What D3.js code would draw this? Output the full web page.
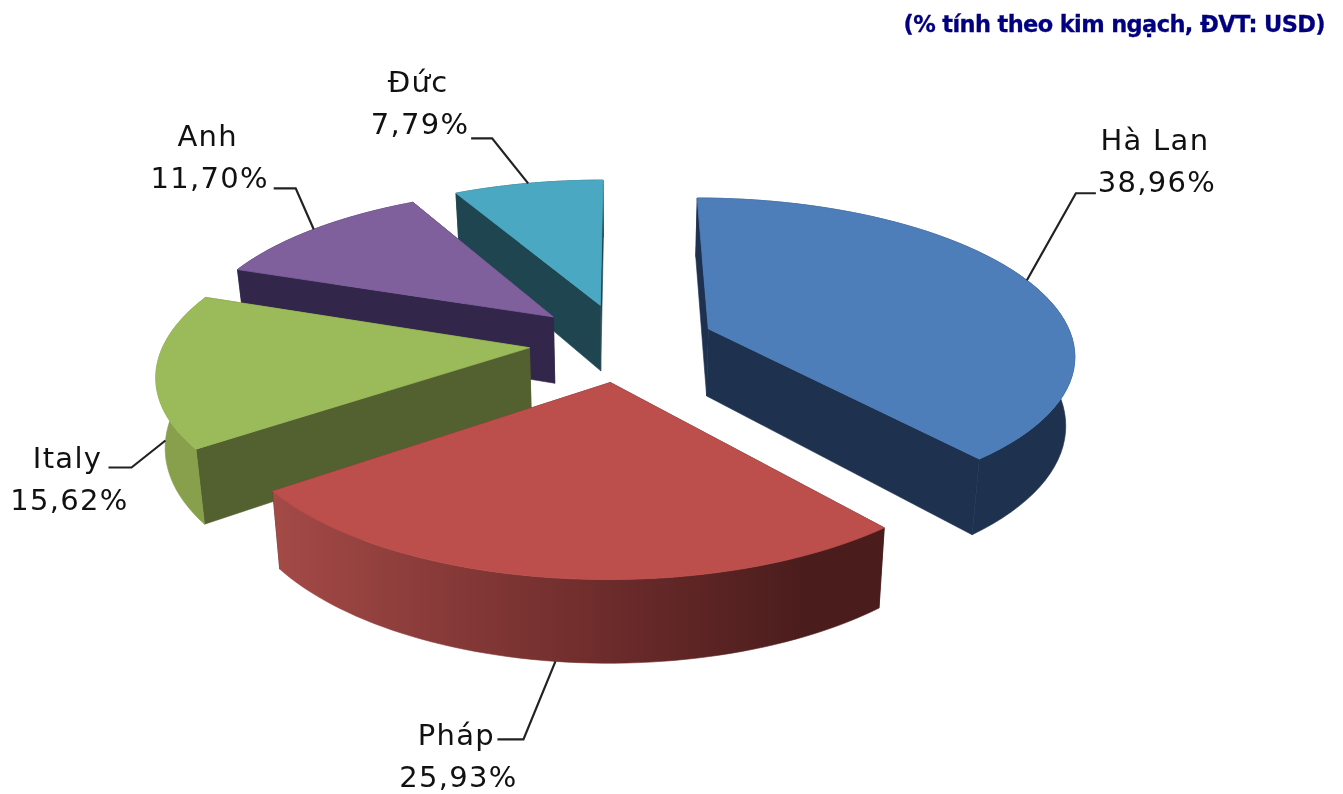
<!DOCTYPE html>
<html>
    <head>
        <title>Pie 3D</title>
        <script src="https://d3js.org/d3.v7.min.js"></script>
        <style>
            body { margin: 0; background: white; }
            svg { display: block; filter: blur(0.4px); }
            .label { font-family: "DejaVu Sans", sans-serif; font-size: 29px; letter-spacing: 1.3px; fill: #111; text-anchor: middle; }
            .note { font-family: "DejaVu Sans", sans-serif; font-weight: bold; font-size: 22.5px; letter-spacing: -0.62px; fill: #000080; stroke: #000080; stroke-width: 0.3; text-anchor: end; }
            .leader { fill: none; stroke: #222; stroke-width: 2.2; }
        </style>
    </head>
    <body>
        <svg id="chart" width="1343" height="794"></svg>
        <script>
            const note = "(% tính theo kim ngạch, ĐVT: USD)";
            const categories = ["Hà Lan", "Pháp", "Italy", "Anh", "Đức"];
            const shares = [38.96, 25.93, 15.62, 11.70, 7.79];
            const shareLabels = ["38,96%", "25,93%", "15,62%", "11,70%", "7,79%"];
            const topColors = ["#4d7eba", "#bc4f4c", "#9bba59", "#7f609d", "#4ba8c3"];
            const wallColors = ["#1e3250", "#4a1c1c", "#536030", "#32264a", "#1e4550"];
            const rimColors = ["#1e3250", "url(#rimRed)", "#88a04c", "#32264a", "#1e4550"];

            // Layout of the leaders and labels, relative to the point on the rim
            const leaderOnBase = [false, true, true, false, false];
            const kneeOffset = [[49, -87], [-32, 78], [-34, 27], [-18, -41], [-36, -45]];
            const tail = [20, -26, -23, -22, -21];
            const textOffset = [[79, -43], [-67, 6], [-64, 1], [-88, -42], [-74, -46]];

            const svg = d3.select("#chart");
            const cx = 622, cy = 342;      // pie centre on the screen
            const radius = 365;
            const tilt = 0.422;            // flattening of the disc
            const persp = 0.00041;         // how fast things shrink going backwards
            const thickness = 68;
            const explode = 93;
            const baseShrink = 0.98;       // vertical edges lean in a bit towards the bottom

            const pie = d3.pie().sort(null)
                          .startAngle(0).endAngle(2 * Math.PI);
            const slices = pie(shares);

            // world position (X right, Y back, on the disc) to screen
            const project = function(X, Y, base) {
                const s = 1 / (1 + persp * Y);
                const b = base ? baseShrink : 1;
                return [cx + X * s * b, cy + (-tilt * Y + (base ? thickness : 0)) * s];
            };

            const centerOf = function(d) {
                const mid = (d.startAngle + d.endAngle) / 2;
                return [explode * Math.sin(mid), explode * Math.cos(mid)];
            };

            const rimPoint = function(d, a, base) {
                const o = centerOf(d);
                return project(o[0] + radius * Math.sin(a), o[1] + radius * Math.cos(a), base);
            };

            const apexPoint = function(d, base) {
                const o = centerOf(d);
                return project(o[0], o[1], base);
            };

            const rimAngles = function(d) {
                return d3.range(0, 61).map(i => d.startAngle + (d.endAngle - d.startAngle) * i / 60);
            };

            const line = d3.line();
            const closed = pts => line(pts) + "Z";

            const defs = svg.append("defs");
            const grad = defs.append("linearGradient").attr("id", "rimRed");
            grad.append("stop").attr("offset", "0%").attr("stop-color", "#a44a47");
            grad.append("stop").attr("offset", "50%").attr("stop-color", "#712e2d");
            grad.append("stop").attr("offset", "88%").attr("stop-color", "#4a1c1c");
            grad.append("stop").attr("offset", "100%").attr("stop-color", "#4a1c1c");

            // back to front
            const drawOrder = [4, 3, 2, 0, 1];

            const pieArea = svg.append("g").attr("id", "pieArea");
            drawOrder.forEach(i => {
                const d = slices[i];
                const g = pieArea.append("g");
                const angles = rimAngles(d);

                [d.endAngle, d.startAngle].forEach(a => {
                    g.append("path")
                     .attr("d", closed([apexPoint(d, false), rimPoint(d, a, false), rimPoint(d, a, true), apexPoint(d, true)]))
                     .attr("fill", wallColors[i])
                     .attr("stroke", wallColors[i])
                     .attr("stroke-width", 0.6);
                });

                const rimTop = angles.map(a => rimPoint(d, a, false));
                const rimBase = angles.map(a => rimPoint(d, a, true)).reverse();
                g.append("path")
                 .attr("d", closed(rimTop.concat(rimBase)))
                 .attr("fill", rimColors[i])
                 .attr("stroke", rimColors[i])
                 .attr("stroke-width", 0.6);

                g.append("path")
                 .attr("d", closed([apexPoint(d, false)].concat(rimTop)))
                 .attr("fill", topColors[i])
                 .attr("stroke", topColors[i])
                 .attr("stroke-width", 0.8);
            });

            // Leaders and labels, the leader leaves the rim at the middle of the slice
            const labels = svg.append("g").attr("id", "labels");
            slices.forEach((d, i) => {
                const a = (d.startAngle + d.endAngle) / 2;
                const p = rimPoint(d, a, leaderOnBase[i]);
                const knee = [p[0] + kneeOffset[i][0], p[1] + kneeOffset[i][1]];
                labels.append("path")
                      .attr("class", "leader")
                      .attr("d", line([p, knee, [knee[0] + tail[i], knee[1]]]));
                const tx = knee[0] + textOffset[i][0], ty = knee[1] + textOffset[i][1];
                labels.append("text").attr("class", "label").attr("x", tx).attr("y", ty).text(categories[i]);
                labels.append("text").attr("class", "label").attr("x", tx + 2).attr("y", ty + 42).text(shareLabels[i]);
            });

            svg.append("text").attr("class", "note").attr("x", 1325).attr("y", 32).text(note);
        </script>
    </body>
</html>
